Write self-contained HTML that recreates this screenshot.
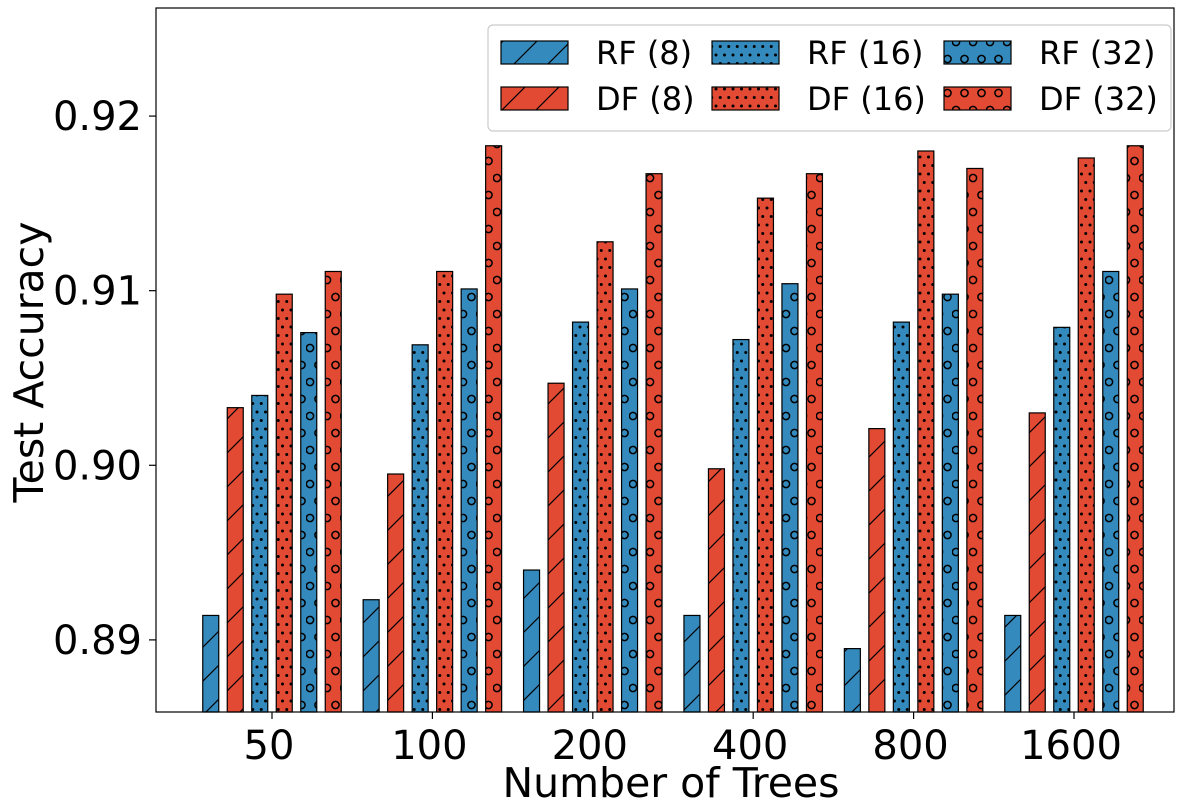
<!DOCTYPE html>
<html><head><meta charset="utf-8"><style>
html,body{margin:0;padding:0;background:#fff;}
svg{display:block;font-family:"DejaVu Sans","Liberation Sans",sans-serif;}
</style></head><body>
<svg id="chart" width="1200" height="800" viewBox="0 0 1200 800">
<defs>
<pattern id="hatch" patternUnits="userSpaceOnUse" width="34" height="34">
<path d="M-8.5,8.5 L8.5,-8.5 M0,34 L34,0 M25.5,42.5 L42.5,25.5" stroke="#000" stroke-width="1.2"/>
</pattern>
<pattern id="dots" patternUnits="userSpaceOnUse" width="8.5" height="17">
<circle cx="2" cy="4" r="1.5" fill="#000"/><circle cx="6.25" cy="12.5" r="1.5" fill="#000"/>
</pattern>
<pattern id="rings" patternUnits="userSpaceOnUse" width="17" height="34">
<circle cx="4" cy="8" r="3.6" fill="none" stroke="#000" stroke-width="1.5"/><circle cx="12.5" cy="25" r="3.6" fill="none" stroke="#000" stroke-width="1.5"/>
</pattern>
</defs>
<g id="bars"></g>
<g id="axes"></g>
<g id="legend"></g>
</svg>
<script>
const categories = ["50","100","200","400","800","1600"];
const seriesNames = ["RF (8)","DF (8)","RF (16)","DF (16)","RF (32)","DF (32)"];
const rf8  = [0.8914,0.8923,0.8940,0.8914,0.8895,0.8914];
const df8  = [0.9033,0.8995,0.9047,0.8998,0.9021,0.9030];
const rf16 = [0.9040,0.9069,0.9082,0.9072,0.9082,0.9079];
const df16 = [0.9098,0.9111,0.9128,0.9153,0.9180,0.9176];
const rf32 = [0.9076,0.9101,0.9101,0.9104,0.9098,0.9111];
const df32 = [0.9111,0.9183,0.9167,0.9167,0.9170,0.9183];
const yTicks = [0.89,0.90,0.91,0.92];
const yTickLabels = ["0.89","0.90","0.91","0.92"];

const NS="http://www.w3.org/2000/svg";
const L=156,R=1174,T=8,B=712;
const yMin=0.88587,yMax=0.92619;
const y=v=>B-(v-yMin)/(yMax-yMin)*(B-T);
const x=i=>272+i*160.4;
const series=[rf8,df8,rf16,df16,rf32,df32];
const colors=["#348ABD","#E24A33"];
const pats=["hatch","hatch","dots","dots","rings","rings"];
const offs=[-61.25,-36.75,-12.25,12.25,36.75,61.25];
const bw=16;
function mk(tag,attrs,parent){const e=document.createElementNS(NS,tag);for(const k in attrs)e.setAttribute(k,attrs[k]);parent.appendChild(e);return e;}
const gb=document.getElementById('bars');
series.forEach((s,si)=>{
  s.forEach((v,ci)=>{
    const x0=x(ci)+offs[si]-bw/2, yt=y(v);
    const g=mk('g',{},gb);
    
    
    mk('rect',{x:x0,y:yt,width:bw,height:B-yt,fill:colors[si%2]},g);
    mk('rect',{x:x0,y:yt,width:bw,height:B-yt,fill:'url(#'+pats[si]+')',stroke:'#000','stroke-width':1.2},g);
  });
});
const ga=document.getElementById('axes');
const frame=mk('rect',{x:L,y:T,width:R-L,height:B-T,fill:'none',stroke:'#000','stroke-width':1.2},ga);


yTicks.forEach((t,i)=>{
  mk('line',{x1:L-7,x2:L,y1:y(t),y2:y(t),stroke:'#000','stroke-width':1.2},ga);
  const tx=mk('text',{x:L-14,y:y(t)+14,'text-anchor':'end','font-size':40},ga);
  tx.textContent=yTickLabels[i];
  
  
});
categories.forEach((c,i)=>{
  mk('line',{x1:x(i),x2:x(i),y1:B,y2:B+7,stroke:'#000','stroke-width':1.2},ga);
  const tx=mk('text',{x:x(i)-3,y:B+47,'text-anchor':'middle','font-size':40},ga);
  tx.textContent=c;
  
  
});
const xt=mk('text',{x:671,y:797,'text-anchor':'middle','font-size':41},ga);
xt.textContent="Number of Trees";


const yt=mk('text',{x:0,y:0,'text-anchor':'middle','font-size':41,transform:'translate(43,362) rotate(-90)'},ga);
yt.textContent="Test Accuracy";


const gl=document.getElementById('legend');


mk('rect',{x:488,y:25,width:683,height:106,rx:5,fill:'#fff','fill-opacity':0.85,stroke:'#ccc','stroke-width':1.2},gl);
const colX=[501,712,944];
seriesNames.forEach((nm,si)=>{
  const col=Math.floor(si/2),row=si%2;
  const sx=colX[col], sy=41+row*46;
  const g=mk('g',{},gl);
  
  
  mk('rect',{x:sx,y:sy,width:67,height:23,fill:colors[si%2]},g);
  mk('rect',{x:sx,y:sy,width:67,height:23,fill:'url(#'+pats[si]+')',stroke:'#000','stroke-width':1.2},g);
  const tx=mk('text',{x:sx+95,y:sy+23,'font-size':32},g);
  tx.textContent=nm;
});
</script>
</body></html>
